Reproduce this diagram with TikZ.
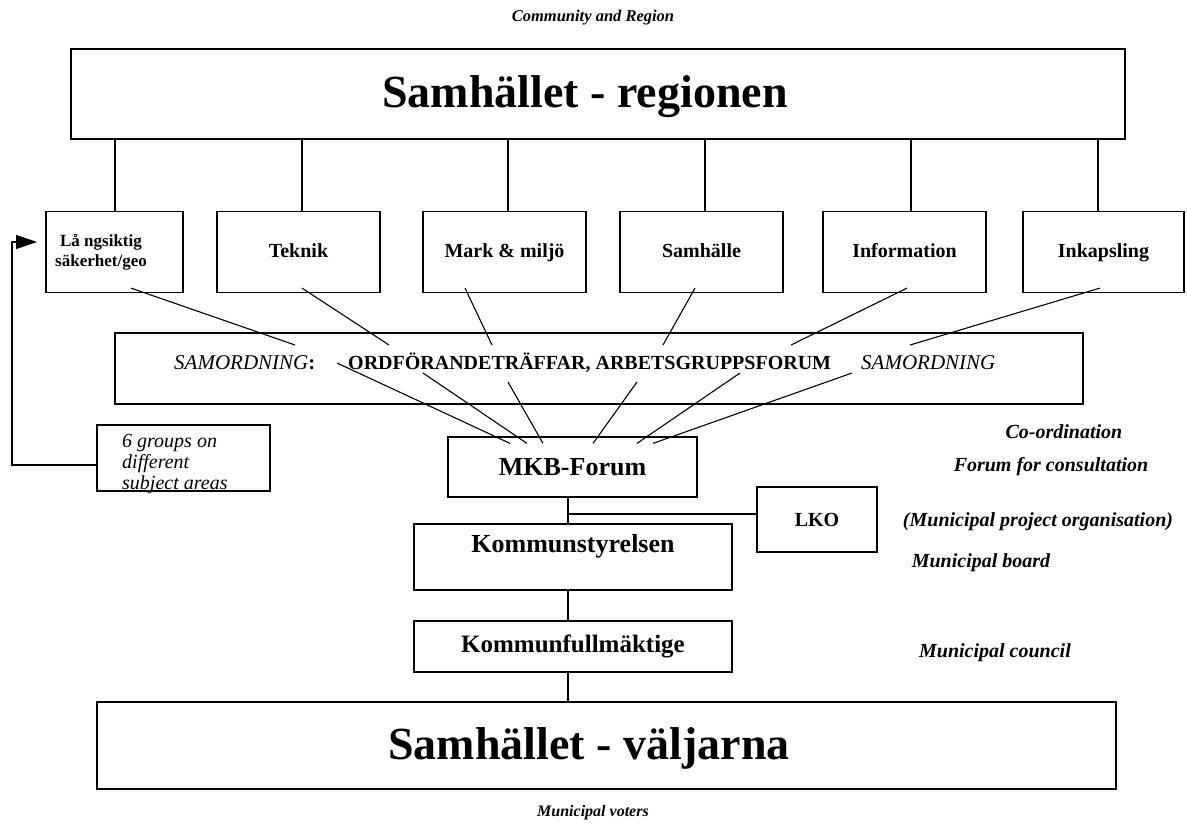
\documentclass[tikz,border=0pt]{standalone}
\usepackage{fontspec}
\setmainfont{Liberation Serif}
\usetikzlibrary{arrows.meta,calc}

\tikzset{
  box/.style={draw, line width=1.2pt, inner sep=0pt, anchor=center},
  link/.style={line width=1.1pt},
  bigtxt/.style={font=\fontsize{46}{50}\selectfont\bfseries, inner sep=0pt},
  subtxt/.style={font=\fontsize{20}{23}\selectfont\bfseries, inner sep=0pt, text height=14pt, text depth=4pt},
  midtxt/.style={font=\fontsize{26}{29}\selectfont\bfseries, inner sep=0pt},
  note/.style={font=\fontsize{20}{23}\selectfont\bfseries\itshape, inner sep=0pt},
}

\begin{document}
\begin{tikzpicture}[x=1pt, y=-1pt]
\useasboundingbox (0,0) rectangle (1187,825);

% headings
\node[note, font=\fontsize{16.5}{19}\selectfont\bfseries\itshape] (cap1) at (593,18) {Community and Region};
\node[box, minimum width=1054pt, minimum height=90pt] (top) at (598,94) {};
\node[bigtxt] (toptxt) at (585,97) {Samhället - regionen};

% working groups
\node[box, minimum width=137pt, minimum height=81pt] (b1) at (114.5,252) {};
\node[font=\fontsize{17}{20}\selectfont\bfseries, align=center, inner sep=0pt] (b1t) at (101,252) {Lå ngsiktig\\säkerhet/geo};
\node[box, subtxt, minimum width=163pt, minimum height=81pt] (b2) at (298.5,252) {Teknik};
\node[box, subtxt, minimum width=163pt, minimum height=81pt] (b3) at (504.5,252) {Mark \& miljö};
\node[box, subtxt, minimum width=163pt, minimum height=81pt] (b4) at (701.5,252) {Samhälle};
\node[box, subtxt, minimum width=163pt, minimum height=81pt] (b5) at (904.5,252) {Information};
\node[box, subtxt, minimum width=161pt, minimum height=81pt] (b6) at (1103.5,252) {Inkapsling};

% drops from the region box to each group
\draw[link] ([xshift=0.5pt]top.south -| b1.north) -- ([xshift=0.5pt]b1.north);
\draw[link] ([xshift=3.5pt]top.south -| b2.north) -- ([xshift=3.5pt]b2.north);
\draw[link] ([xshift=3.5pt]top.south -| b3.north) -- ([xshift=3.5pt]b3.north);
\draw[link] ([xshift=3.5pt]top.south -| b4.north) -- ([xshift=3.5pt]b4.north);
\draw[link] ([xshift=6.5pt]top.south -| b5.north) -- ([xshift=6.5pt]b5.north);
\draw[link] ([xshift=-5.5pt]top.south -| b6.north) -- ([xshift=-5.5pt]b6.north);

% co-ordination band
\node[box, minimum width=968pt, minimum height=71pt] (sam) at (599,368.5) {};
\node[font=\fontsize{21}{24}\selectfont, inner sep=0pt, anchor=base west] (s1t) at (174,369) {\textit{SAMORDNING}\textbf{:}};
\node[font=\fontsize{20}{23}\selectfont\bfseries, inner sep=0pt, anchor=base west] (s2t) at (348,369) {ORDFÖRANDETRÄFFAR, ARBETSGRUPPSFORUM};
\node[font=\fontsize{21}{24}\selectfont\itshape, inner sep=0pt, anchor=base west] (s3t) at (861,369) {SAMORDNING};

% upper fan: groups into the band
\coordinate (u1) at (295,345);
\coordinate (u2) at (389,345);
\coordinate (u3) at (492,345);
\coordinate (u4) at (663,345);
\coordinate (u5) at (791,345);
\coordinate (u6) at (910,345);
\draw[link] ([xshift=16.5pt,yshift=5pt]b1.south) -- (u1);
\draw[link] ([xshift=3.5pt,yshift=5pt]b2.south) -- (u2);
\draw[link] ([xshift=-39.5pt,yshift=5pt]b3.south) -- (u3);
\draw[link] ([xshift=-6.5pt,yshift=5pt]b4.south) -- (u4);
\draw[link] ([xshift=2.5pt,yshift=5pt]b5.south) -- (u5);
\draw[link] ([xshift=-3.5pt,yshift=5pt]b6.south) -- (u6);

% MKB forum and the lower fan
\node[box, midtxt, minimum width=249pt, minimum height=60pt] (mkb) at (572.5,467) {MKB-Forum};
\coordinate (l1) at (337,363);
\coordinate (l2) at (423,373);
\coordinate (l3) at (508,382);
\coordinate (l4) at (637,382);
\coordinate (l5) at (740,373);
\coordinate (l6) at (852,373);
\draw[link] (l1) -- ([xshift=-62.5pt,yshift=-7pt]mkb.north);
\draw[link] (l2) -- ([xshift=-45.5pt,yshift=-7pt]mkb.north);
\draw[link] (l3) -- ([xshift=-29.5pt,yshift=-7pt]mkb.north);
\draw[link] (l4) -- ([xshift=20.5pt,yshift=-7pt]mkb.north);
\draw[link] (l5) -- ([xshift=64.5pt,yshift=-7pt]mkb.north);
\draw[link] (l6) -- ([xshift=80.5pt,yshift=-7pt]mkb.north);

% municipal chain
\node[box, minimum width=318pt, minimum height=66pt] (ks) at (573,557) {};
\node[midtxt] (kst) at (573,546) {Kommunstyrelsen};
\node[box, font=\fontsize{20}{23}\selectfont\bfseries, minimum width=120pt, minimum height=65pt] (lko) at (817,519.5) {LKO};
\node[box, font=\fontsize{25}{28}\selectfont\bfseries, minimum width=318pt, minimum height=51pt] (kf) at (573,646.5) {Kommunfullmäktige};
\node[box, minimum width=1019pt, minimum height=87pt] (bot) at (606.5,745.5) {};
\node[bigtxt] (bott) at (589,748) {Samhället - väljarna};
\node[note, font=\fontsize{16}{19}\selectfont\bfseries\itshape] (cap2) at (593,813) {Municipal voters};

\coordinate (j) at (568,514);
\draw[link] (mkb.south -| j) -- (ks.north -| j);
\draw[link] (j) -- (j -| lko.west);
\draw[link] (ks.south -| j) -- (kf.north -| j);
\draw[link] (kf.south -| j) -- (bot.north -| j);

% feedback from the subject-area note to the groups
\node[box, minimum width=173pt, minimum height=66pt] (grp) at (183.5,458) {};
\node[font=\fontsize{20}{21}\selectfont\itshape, align=left, anchor=north west, inner sep=0pt] (grpt) at (122,434) {6 groups on\\different\\subject areas};
\coordinate (c1) at (12,465);
\coordinate (c2) at (12,242);
\coordinate (tip) at (37,242);
\draw[link, -{Triangle[length=21pt,width=14pt]}] (grp.west |- c1) -- (c1) -- (c2) -- (tip);

% side notes
\node[note] (n1) at (1064,432) {Co-ordination};
\node[note] (n2) at (1051,467) {Forum for consultation};
\node[note] (n3) at (1038,522) {(Municipal project organisation)};
\node[note] (n4) at (981,563) {Municipal board};
\node[note] (n5) at (995,653) {Municipal council};
\end{tikzpicture}
\end{document}
